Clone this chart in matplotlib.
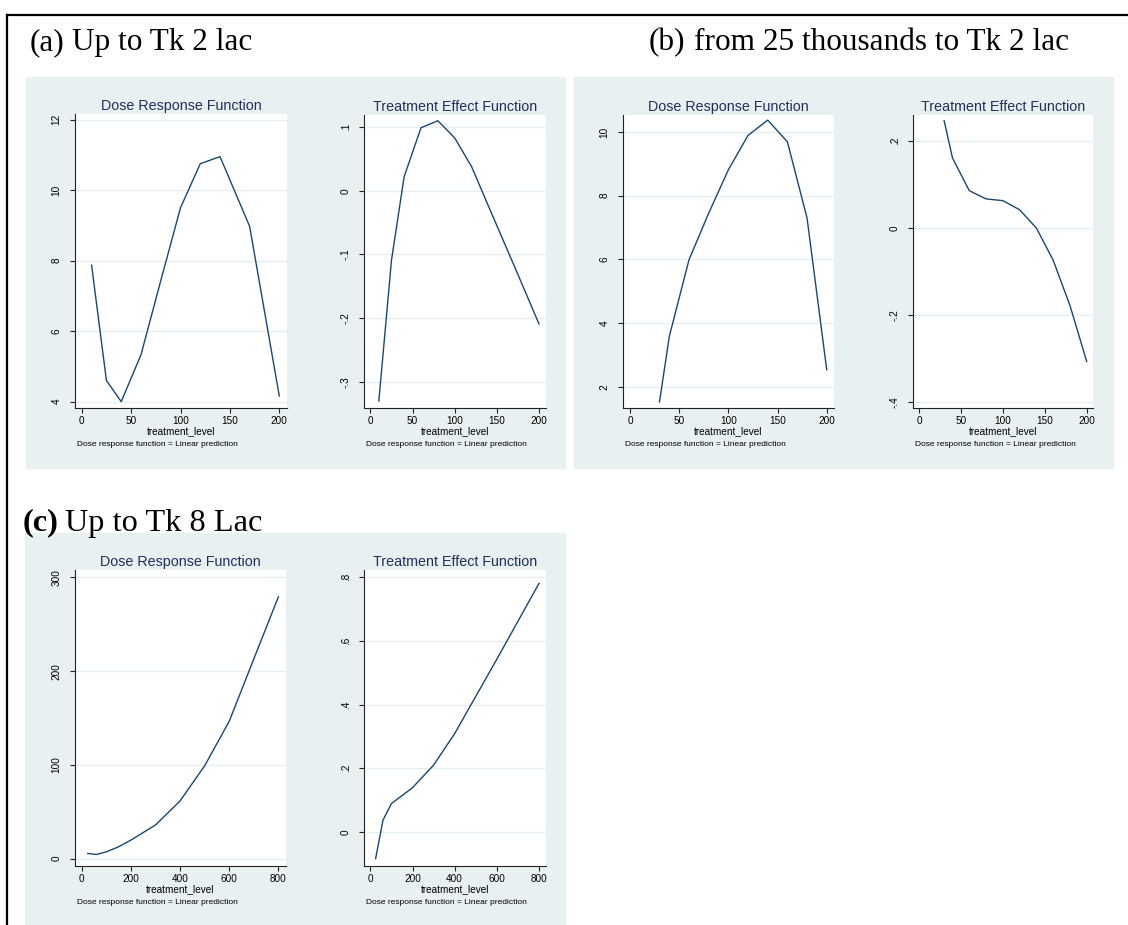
import matplotlib
matplotlib.use("Agg")
import matplotlib.pyplot as plt
from matplotlib.patches import Rectangle
from matplotlib.lines import Line2D

# panel (a): up to Tk 2 lac
a_x = [10, 25, 40, 60, 80, 100, 120, 140, 170, 200]
a_drf = [7.87, 4.60, 4.00, 5.33, 7.43, 9.50, 10.75, 10.95, 8.97, 4.16]
a_tef = [-0.330, -0.109, 0.022, 0.099, 0.110, 0.083, 0.038, -0.024, -0.116, -0.209]

# panel (b): from 25 thousands to Tk 2 lac
b_x = [30, 40, 60, 80, 100, 120, 140, 160, 180, 200]
b_drf = [1.53, 3.59, 5.99, 7.45, 8.81, 9.89, 10.37, 9.69, 7.30, 2.54]
b_tef = [0.247, 0.161, 0.086, 0.067, 0.063, 0.042, 0.000, -0.074, -0.178, -0.307]

# panel (c): up to Tk 8 lac
c_x = [25, 60, 100, 150, 200, 300, 400, 500, 600, 700, 800]
c_drf = [5.4, 4.3, 7.1, 12.5, 19.6, 35.7, 61.4, 98.9, 146.4, 213.0, 279.3]
c_tef = [-0.084, 0.037, 0.089, 0.114, 0.139, 0.210, 0.309, 0.426, 0.543, 0.662, 0.781]

x_ticks_200 = [0, 50, 100, 150, 200]
x_ticks_800 = [0, 200, 400, 600, 800]

W, H = 1128, 925
BG = "#e8f0f2"
GRID = "#e6eef0"
LINE = "#1a476f"
TITLE = "#1f2f5c"
SANS = "Liberation Sans"
SERIF = "Liberation Serif"

fig = plt.figure(figsize=(W / 100, H / 100), dpi=100)


def fx(x):
    return x / W


def fy(y):
    return 1 - y / H


def bg(x0, y0, x1, y1):
    fig.patches.append(Rectangle((fx(x0), fy(y1)), (x1 - x0) / W, (y1 - y0) / H,
                                 transform=fig.transFigure, color=BG, zorder=-5))


def panel(x0, y0, x1, y1, x, y, xlim, ylim, yticks, ylabels, xticks, title):
    ax = fig.add_axes([fx(x0), fy(y1), (x1 - x0) / W, (y1 - y0) / H], zorder=2)
    ax.plot(x, y, color=LINE, lw=1.0)
    ax.set_xlim(xlim)
    ax.set_ylim(ylim)
    ax.set_xticks(xticks)
    ax.set_xticklabels([str(t) for t in xticks], fontsize=7.2, family=SANS)
    ax.set_yticks(yticks)
    ax.set_yticklabels(ylabels, fontsize=7.2, family=SANS, rotation=90, va="center")
    ax.tick_params(direction="out", length=3.6, width=0.8, color="#222222")
    ax.tick_params(axis="y", pad=6)
    ax.tick_params(axis="x", pad=2)
    for s in ["top", "right"]:
        ax.spines[s].set_visible(False)
    for s in ["left", "bottom"]:
        ax.spines[s].set_color("#222222")
        ax.spines[s].set_linewidth(0.8)
    ax.yaxis.grid(True, color=GRID, lw=1.0)
    ax.set_axisbelow(True)
    ax.set_title(title, fontsize=10.3, color=TITLE, family=SANS, pad=3)
    ax.set_xlabel("treatment_level", fontsize=7.2, family=SANS, labelpad=0)
    ax.annotate("Dose response function = Linear prediction", xy=(0, 0),
                xycoords="axes fraction", xytext=(1.5, -26), textcoords="offset points",
                va="center", ha="left", fontsize=6, family=SANS)
    return ax


bg(26, 77, 565, 468)
bg(574, 77, 1113, 468)
bg(25, 533, 565, 925)

# frame lines at top and left
fig.add_artist(Line2D([fx(7), 1], [fy(15), fy(15)], color="black", lw=1.6))
fig.add_artist(Line2D([fx(7), fx(7)], [fy(15), 0], color="black", lw=1.6))

panel(75, 114, 287, 408, a_x, a_drf, (-6.8, 207.8), (3.82, 12.16),
      [4, 6, 8, 10, 12], ["4", "6", "8", "10", "12"], x_ticks_200, "Dose Response Function")
panel(364, 115, 546, 408, a_x, a_tef, (-7.6, 208.3), (-0.341, 0.119),
      [-0.3, -0.2, -0.1, 0, 0.1], ["-.3", "-.2", "-.1", "0", ".1"], x_ticks_200,
      "Treatment Effect Function")
panel(623, 115, 834, 408, b_x, b_drf, (-7.1, 207.4), (1.34, 10.53),
      [2, 4, 6, 8, 10], ["2", "4", "6", "8", "10"], x_ticks_200, "Dose Response Function")
panel(913, 115, 1093, 408, b_x, b_tef, (-7.1, 207.5), (-0.414, 0.26),
      [-0.4, -0.2, 0, 0.2], ["-.4", "-.2", "0", ".2"], x_ticks_200,
      "Treatment Effect Function")
panel(75, 570, 286, 866, c_x, c_drf, (-27, 831), (-8, 308),
      [0, 100, 200, 300], ["0", "100", "200", "300"], x_ticks_800, "Dose Response Function")
panel(364, 570, 546, 866, c_x, c_tef, (-30, 833), (-0.107, 0.823),
      [0, 0.2, 0.4, 0.6, 0.8], ["0", ".2", ".4", ".6", ".8"], x_ticks_800,
      "Treatment Effect Function")

# panel captions
fig.text(fx(30), fy(50), "(a)", fontsize=22.5, family=SERIF, va="baseline")
fig.text(fx(71.7), fy(50), "Up to Tk 2 lac", fontsize=22.5, family=SERIF, va="baseline")
fig.text(fx(649), fy(50), "(b)", fontsize=22.5, family=SERIF, va="baseline")
fig.text(fx(693.5), fy(50), "from 25 thousands to Tk 2 lac", fontsize=22.5, family=SERIF,
         va="baseline")
fig.text(fx(23), fy(530.7), "(c)", fontsize=23.3, family=SERIF, weight="bold", va="baseline")
fig.text(fx(65), fy(530.7), "Up to Tk 8 Lac", fontsize=23.3, family=SERIF, va="baseline")

fig.savefig("out.png", dpi=100)
